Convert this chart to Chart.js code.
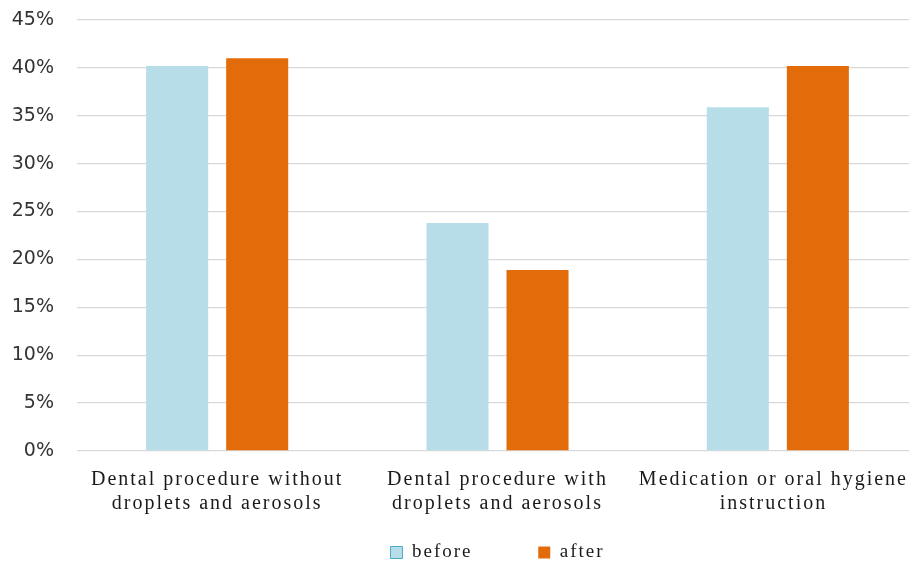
<!DOCTYPE html>
<html>
<head>
<meta charset="utf-8">
<script src="https://cdn.jsdelivr.net/npm/chart.js@4/dist/chart.umd.min.js"></script>
<style>
  html, body { margin: 0; padding: 0; background: #ffffff; overflow: hidden; }
  #wrap { width: 918px; height: 564px; }
</style>
</head>
<body>
<div id="wrap"><canvas id="chart" width="918" height="564"></canvas></div>
<script>
// Share of visits by type of treatment, before and after
const categories = [
  ['Dental procedure without', 'droplets and aerosols'],
  ['Dental procedure with', 'droplets and aerosols'],
  ['Medication or oral hygiene', 'instruction']
];
const seriesNames = ['before', 'after'];
const beforeValues = [40.2, 23.8, 35.9];
const afterValues = [41.0, 18.9, 40.2];
const yTickValues = [0, 5, 10, 15, 20, 25, 30, 35, 40, 45];

const BEFORE_COLOR = '#b7dde8';
const AFTER_COLOR = '#e36c0a';
const GRID_COLOR = '#d9d9d9';
const SERIF = '"Liberation Serif", "Times New Roman", serif';
const VISIBLE_RIGHT = 907;

// Serif labels are slightly tracked
const tracking = {
  id: 'tracking',
  beforeUpdate(chart) { chart.ctx.letterSpacing = '2px'; },
  beforeDraw(chart) { chart.ctx.letterSpacing = '2px'; }
};

new Chart(document.getElementById('chart'), {
  type: 'bar',
  data: {
    labels: categories,
    datasets: [
      { label: seriesNames[0], data: beforeValues, backgroundColor: BEFORE_COLOR, borderWidth: 0 },
      { label: seriesNames[1], data: afterValues, backgroundColor: AFTER_COLOR, borderWidth: 0 }
    ]
  },
  options: {
    responsive: false,
    animation: false,
    devicePixelRatio: 1,
    layout: { padding: { top: 20, left: 0, right: 0, bottom: -8 } },
    datasets: { bar: { categoryPercentage: 0.571, barPercentage: 0.775 } },
    scales: {
      x: {
        grid: { display: false, drawTicks: false },
        border: { display: false },
        ticks: {
          autoSkip: false,
          maxRotation: 0,
          minRotation: 0,
          padding: 17,
          color: '#1a1a1a',
          font: { family: SERIF, size: 20, lineHeight: 1.2 }
        },
        afterFit(scale) {
          scale.height = 87;
          scale.paddingLeft = 0;
          scale.paddingRight = 0;
        },
        afterUpdate(scale) {
          // keep the widest label of the last category inside the visible width
          const base = Object.getPrototypeOf(scale).getLabelItems;
          scale.getLabelItems = function (area) {
            const items = base.call(this, area);
            const last = items[items.length - 1];
            if (last && !last.fitted) {
              const ctx = this.ctx;
              ctx.save();
              ctx.font = last.font.string;
              const lines = Array.isArray(last.label) ? last.label : [last.label];
              const w = Math.max(...lines.map(t => ctx.measureText(t).width)) - 2;
              ctx.restore();
              const overflow = last.options.translation[0] + w / 2 - VISIBLE_RIGHT;
              if (overflow > 0) last.options.translation[0] -= overflow;
              last.fitted = true;
            }
            return items;
          };
        }
      },
      y: {
        min: 0,
        max: 45,
        afterBuildTicks(scale) { scale.ticks = yTickValues.map(v => ({ value: v })); },
        grid: { color: GRID_COLOR, lineWidth: 1.3, drawTicks: false },
        border: { display: false },
        ticks: {
          padding: 23,
          color: '#333333',
          font: { family: '"DejaVu Sans", Verdana, sans-serif', size: 19 },
          callback: v => v + '%'
        },
        afterFit(scale) {
          scale.width = 77;
          scale.paddingTop = 0;
          scale.paddingBottom = 0;
        },
        afterUpdate(scale) {
          // percentage labels use normal (untracked) spacing
          const base = Object.getPrototypeOf(scale).drawLabels;
          scale.drawLabels = function (area) {
            const ctx = this.ctx;
            const prev = ctx.letterSpacing;
            ctx.letterSpacing = '0px';
            base.call(this, area);
            ctx.letterSpacing = prev;
          };
        }
      }
    },
    plugins: {
      tooltip: { enabled: false },
      legend: {
        position: 'bottom',
        fullSize: false,
        labels: {
          boxWidth: 12,
          boxHeight: 12,
          padding: 5,
          color: '#1a1a1a',
          font: { family: SERIF, size: 19 },
          generateLabels(chart) {
            const items = Chart.defaults.plugins.legend.labels.generateLabels(chart);
            items.forEach((item, i) => {
              if (i === 0) { item.strokeStyle = '#4bacc6'; item.lineWidth = 1; }
              else { item.lineWidth = 0; }
              if (i < items.length - 1) item.text += ' '.repeat(9);
            });
            return items;
          }
        }
      }
    }
  },
  plugins: [tracking]
});
</script>
</body>
</html>
